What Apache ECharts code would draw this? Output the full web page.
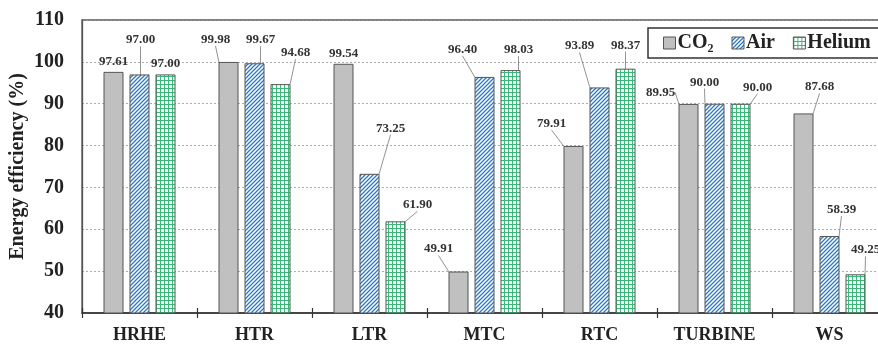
<!DOCTYPE html>
<html>
<head>
<meta charset="utf-8">
<script src="https://cdn.jsdelivr.net/npm/echarts@6/dist/echarts.min.js"></script>
<style>html,body{margin:0;padding:0;background:#fff;overflow:hidden;width:878px;height:345px;}#c{width:900px;height:345px;}</style>
</head>
<body>
<div id="c"></div>
<script>
// ---- data ----
var categories = ['HRHE', 'HTR', 'LTR', 'MTC', 'RTC', 'TURBINE', 'WS'];
var seriesNames = ['CO\u2082', 'Air', 'Helium'];
var co2Values = [97.61, 99.98, 99.54, 49.91, 79.91, 89.95, 87.68];
var airValues = [97.00, 99.67, 73.25, 96.40, 93.89, 90.00, 58.39];
var heliumValues = [97.00, 94.68, 61.90, 98.03, 98.37, 90.00, 49.25];
var yTicks = [40, 50, 60, 70, 80, 90, 100, 110];

// label offsets (styling, pixel shifts relative to default 'top' label)
var labelShift = [
  [[0,0],[-13,-12],[0,0],[-20,-12],[-22,-12],[-28,-1],[16,-16]],
  [[1,-24],[6,-13],[21,-35],[-22,-17],[-20,-31],[-10,-11],[12,-16]],
  [[0,0],[15,-21],[22,-6],[8,-10],[0,-13],[17,-6],[10,-14]]
];

function makeHatch() {
  var c = document.createElement('canvas'); c.width = 4; c.height = 4;
  var x = c.getContext('2d');
  x.fillStyle = '#ffffff'; x.fillRect(0,0,4,4);
  x.strokeStyle = '#2f78c8'; x.lineWidth = 1.3;
  x.beginPath();
  x.moveTo(0,4); x.lineTo(4,0);
  x.moveTo(-1,1); x.lineTo(1,-1);
  x.moveTo(3,5); x.lineTo(5,3);
  x.stroke();
  return c;
}
function makeGrid() {
  var c = document.createElement('canvas'); c.width = 4; c.height = 4;
  var x = c.getContext('2d');
  x.fillStyle = '#ffffff'; x.fillRect(0,0,4,4);
  x.fillStyle = '#3cb878';
  x.fillRect(0,0,4,1); x.fillRect(0,0,1,4);
  return c;
}

var fills = ['#c0c0c0', {image: makeHatch(), repeat: 'repeat'}, {image: makeGrid(), repeat: 'repeat'}];
var allValues = [co2Values, airValues, heliumValues];
var serif = '"Liberation Serif", "Times New Roman", serif';

var series = allValues.map(function (vals, si) {
  return {
    name: seriesNames[si],
    type: 'bar',
    barWidth: 20,
    barGap: '30%',
    itemStyle: {color: fills[si], borderColor: '#555', borderWidth: 1},
    label: {
      show: true, position: 'top', distance: 4,
      fontFamily: serif, fontWeight: 'bold', fontSize: 13, color: '#333',
      formatter: function (p) { return p.value.toFixed(2); }
    },
    labelLine: {show: true, lineStyle: {color: '#777', width: 0.8}},
    labelLayout: function (p) {
      var s = labelShift[si][p.dataIndex];
      return {dx: s[0], dy: s[1]};
    },
    data: vals.map(function (v, i) {
      var s = labelShift[si][i];
      var item = {value: v};
      if (s[0] === 0 && s[1] === 0) item.labelLine = {show: false};
      return item;
    })
  };
});

var chart = echarts.init(document.getElementById('c'));
chart.setOption({
  animation: false,
  backgroundColor: '#fff',
  grid: {left: 82, top: 20, width: 805, height: 293, show: true, borderColor: '#555', borderWidth: 1.3,
         containLabel: false, outerBoundsMode: 'none'},
  legend: {
    left: 648, top: 28, width: 400,
    padding: [5, 30, 5, 15],
    itemGap: 18, itemWidth: 12, itemHeight: 12,
    icon: 'rect',
    borderColor: '#333', borderWidth: 1.5, backgroundColor: '#fff',
    itemStyle: {borderColor: '#555', borderWidth: 1},
    textStyle: {fontFamily: serif, fontWeight: 'bold', fontSize: 20, color: '#222', padding: [0,0,0,-3]},
    data: seriesNames
  },
  xAxis: [{
    type: 'category', data: categories,
    axisLine: {lineStyle: {color: '#333', width: 1.5}},
    axisTick: {show: true, length: 5, lineStyle: {color: '#333', width: 1.2}},
    axisLabel: {fontFamily: serif, fontWeight: 'bold', fontSize: 18, color: '#222', margin: 13},
    splitLine: {show: false}
  }, {
    type: 'category', data: categories, position: 'bottom',
    axisLine: {show: false},
    axisTick: {show: true, inside: true, length: 5, lineStyle: {color: '#333', width: 1.2}},
    axisLabel: {show: false}
  }],
  yAxis: {
    type: 'value', min: yTicks[0], max: yTicks[yTicks.length - 1], interval: 10,
    name: 'Energy efficiency (%)', nameLocation: 'middle', nameGap: 54, nameMoveOverlap: false,
    nameTextStyle: {fontFamily: serif, fontWeight: 'bold', fontSize: 20, color: '#222'},
    axisLine: {show: true, lineStyle: {color: '#555', width: 1.3}},
    axisTick: {show: false},
    axisLabel: {fontFamily: serif, fontWeight: 'bold', fontSize: 20, color: '#222', margin: 18},
    splitLine: {lineStyle: {color: '#999', type: [2, 2], width: 0.8}}
  },
  series: series
});
</script>
</body>
</html>
